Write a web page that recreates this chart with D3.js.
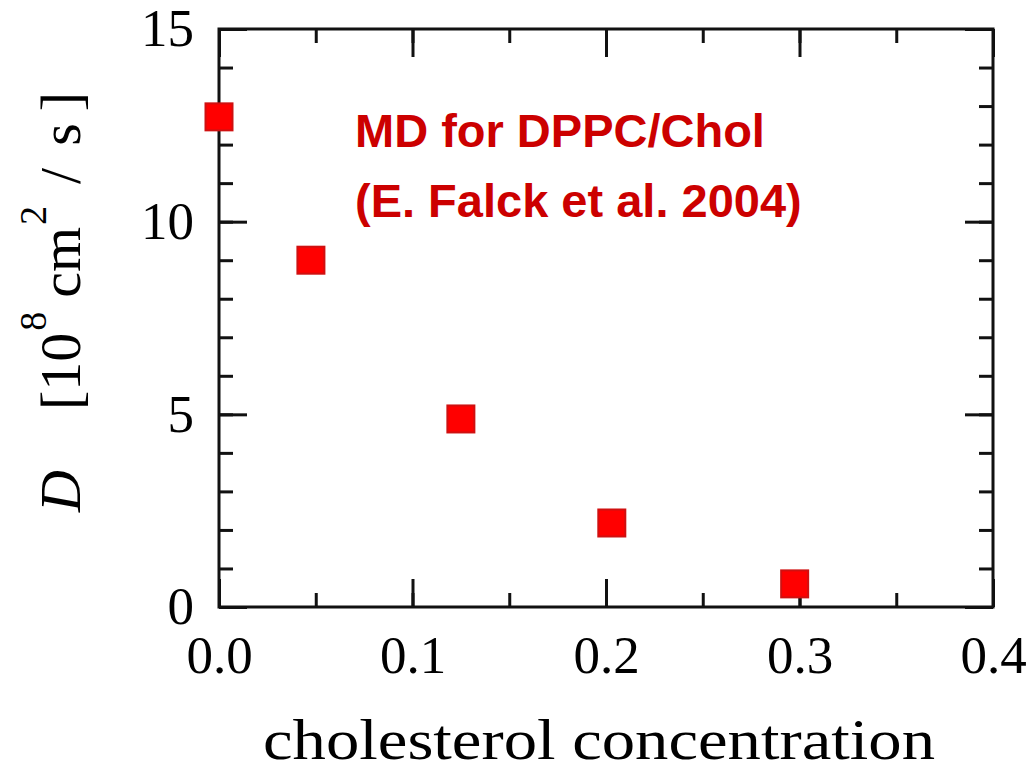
<!DOCTYPE html>
<html>
<head>
<meta charset="utf-8">
<script src="https://cdn.jsdelivr.net/npm/d3@7"></script>
<style>
  body { margin: 0; background: #fff; }
  .tick text { font-family: "Liberation Serif", "DejaVu Serif", serif; }
</style>
</head>
<body>
<svg class="scatter"></svg>
<script>
// data
const concentration = [0.0, 0.0475, 0.125, 0.203, 0.2975];
const diffusion = [12.72, 9.0, 4.88, 2.18, 0.6];
const xTicks = [0.0, 0.1, 0.2, 0.3, 0.4];
const yTicks = [0, 5, 10, 15];
const noteLines = ["MD for DPPC/Chol", "(E. Falck et al. 2004)"];

//Set the variables
var W = 1032, H = 775;
var margin = {top: 29, left: 219, right: 39, bottom: 168};
var width = W - margin.left - margin.right;
var height = H - margin.top - margin.bottom;

var svg = d3.select(".scatter")
    .attr("width", W)
    .attr("height", H)
    .append("g")
    .attr("transform", "translate(" + margin.left + "," + margin.top + ")");

var x = d3.scaleLinear().domain([0, 0.4]).range([0, width]);
var y = d3.scaleLinear().domain([0, 15]).range([height, 0]);

var minorX = d3.range(0, 0.4001, 0.05);
var minorY = d3.range(0, 15.001, 1);

//helper to style axis groups
function styleAxis(g) {
    g.select(".domain").remove();
    g.selectAll(".tick line").attr("stroke", "#111").attr("stroke-width", 3);
    g.selectAll(".tick text").attr("fill", "#000").style("font-size", "53px");
}

//minor ticks, all four sides
svg.append("g").attr("transform", "translate(0," + height + ")")
    .call(d3.axisBottom(x).tickValues(minorX).tickSize(-14).tickFormat(""))
    .call(styleAxis);
svg.append("g")
    .call(d3.axisTop(x).tickValues(minorX).tickSize(-14).tickFormat(""))
    .call(styleAxis);
svg.append("g")
    .call(d3.axisLeft(y).tickValues(minorY).tickSize(-14).tickFormat(""))
    .call(styleAxis);
svg.append("g").attr("transform", "translate(" + width + ",0)")
    .call(d3.axisRight(y).tickValues(minorY).tickSize(-14).tickFormat(""))
    .call(styleAxis);

//major ticks with labels
svg.append("g").attr("transform", "translate(0," + height + ")")
    .call(d3.axisBottom(x).tickValues(xTicks).tickSize(-28).tickPadding(28).tickFormat(d3.format(".1f")))
    .call(styleAxis);
svg.append("g")
    .call(d3.axisTop(x).tickValues(xTicks).tickSize(-28).tickFormat(""))
    .call(styleAxis);
svg.append("g")
    .call(d3.axisLeft(y).tickValues(yTicks).tickSize(-28).tickPadding(25).tickFormat(d3.format("d")))
    .call(styleAxis);
svg.append("g").attr("transform", "translate(" + width + ",0)")
    .call(d3.axisRight(y).tickValues(yTicks).tickSize(-28).tickFormat(""))
    .call(styleAxis);

//frame
svg.append("rect")
    .attr("width", width)
    .attr("height", height)
    .attr("fill", "none")
    .attr("stroke", "#111")
    .attr("stroke-width", 3);

//X label
svg.append("text")
    .attr("x", 263 - margin.left)
    .attr("y", height + 152)
    .attr("textLength", 672)
    .attr("lengthAdjust", "spacingAndGlyphs")
    .style("font-family", "'Liberation Serif', serif")
    .style("font-size", "58px")
    .text("cholesterol concentration");

//Y label
var yl = svg.append("text")
    .attr("transform", "translate(" + (80 - margin.left) + "," + (512 - margin.top) + ") rotate(-90)")
    .style("font-family", "'Liberation Serif', serif")
    .style("font-size", "58px");
yl.append("tspan").style("font-style", "italic").text("D");
yl.append("tspan").attr("dx", 60).text("[10");
yl.append("tspan").attr("dy", -34).attr("dx", 2).style("font-size", "38px").text("8");
yl.append("tspan").attr("dy", 34).attr("dx", 14).text("cm");
yl.append("tspan").attr("dy", -34).attr("dx", 2).style("font-size", "38px").text("2");
yl.append("tspan").attr("dy", 34).attr("dx", 22).text("/");
yl.append("tspan").attr("dx", 22).text("s");
yl.append("tspan").attr("dx", 12).text("]");

//annotation
svg.append("g").selectAll("text")
    .data(noteLines)
    .enter()
    .append("text")
    .attr("x", 355 - margin.left)
    .attr("y", (d, i) => 147 - margin.top + i * 70)
    .style("font-family", "'Liberation Sans', Arial, sans-serif")
    .style("font-weight", "bold")
    .style("font-size", "47px")
    .attr("fill", "#cc0000")
    .text(d => d);

//data points
var side = 27;
svg.append("g")
    .selectAll("rect")
    .data(concentration)
    .enter()
    .append("rect")
    .attr("x", (d) => x(d) - side / 2)
    .attr("y", (d, i) => y(diffusion[i]) - side / 2)
    .attr("width", side)
    .attr("height", side)
    .attr("fill", "#ff0000")
    .attr("stroke", "#d01010")
    .attr("stroke-width", 2);
</script>
</body>
</html>
